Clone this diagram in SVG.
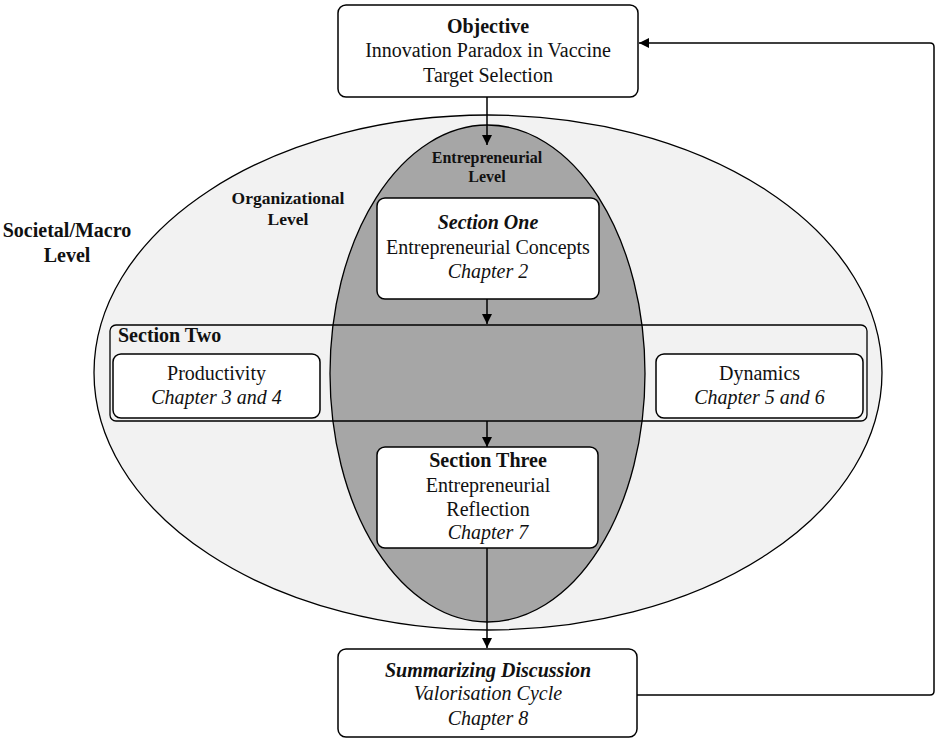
<svg xmlns="http://www.w3.org/2000/svg" width="938" height="741" viewBox="0 0 938 741">
  <defs>
    <marker id="arrow" viewBox="0 0 10 10" refX="10" refY="5" markerWidth="10" markerHeight="10" markerUnits="userSpaceOnUse" orient="auto">
      <path d="M0,0 L10,5 L0,10 z" fill="#000"/>
    </marker>
  </defs>
  <style>
    text { font-family: "Liberation Serif", "Times New Roman", serif; fill: #111; text-anchor: middle; }
    .box { fill: #fff; stroke: #000; stroke-width: 1.5; }
    .t { font-size: 20px; }
    .b { font-weight: bold; }
    .i { font-style: italic; }
    .conn { fill: none; stroke: #000; stroke-width: 1.5; }
  </style>
  <rect width="938" height="741" fill="#fff"/>

  <!-- Level regions -->
  <g id="societal-level">
    <ellipse cx="488" cy="372.5" rx="394" ry="257.5" fill="#f2f2f2" stroke="#000" stroke-width="1.3"/>
    <text class="t b" x="67" y="237">Societal/Macro</text>
    <text class="t b" x="67" y="262">Level</text>
  </g>
  <g id="organizational-level">
    <text class="b" font-size="17.5" x="288" y="204">Organizational</text>
    <text class="b" font-size="17.5" x="288" y="225">Level</text>
  </g>
  <g id="entrepreneurial-level">
    <ellipse cx="487.5" cy="373.5" rx="157.5" ry="248.5" fill="#a6a6a6" stroke="#000" stroke-width="1.3"/>
    <text class="b" font-size="16" x="487" y="163">Entrepreneurial</text>
    <text class="b" font-size="16" x="487" y="182">Level</text>
  </g>

  <!-- Nodes -->
  <g id="objective">
    <rect class="box" x="338" y="5" width="300" height="92" rx="8"/>
    <text class="t b" x="488" y="33">Objective</text>
    <text class="t" x="488" y="57">Innovation Paradox in Vaccine</text>
    <text class="t" x="488" y="82">Target Selection</text>
  </g>

  <g id="section-one">
    <rect class="box" x="377" y="198" width="222" height="101" rx="8"/>
    <text class="t b i" x="488" y="229">Section One</text>
    <text class="t" x="488" y="254">Entrepreneurial Concepts</text>
    <text class="t i" x="488" y="278">Chapter 2</text>
  </g>

  <g id="section-two">
    <rect x="110" y="325" width="757" height="96" rx="6" fill="none" stroke="#000" stroke-width="1.3"/>
    <text class="t b" x="118" y="342" style="text-anchor:start">Section Two</text>
  </g>

  <g id="productivity">
    <rect class="box" x="113" y="354" width="207" height="64" rx="8"/>
    <text class="t" x="216.5" y="380">Productivity</text>
    <text class="t i" x="216.5" y="404">Chapter 3 and 4</text>
  </g>

  <g id="dynamics">
    <rect class="box" x="656" y="354" width="207" height="64" rx="8"/>
    <text class="t" x="759.5" y="380">Dynamics</text>
    <text class="t i" x="759.5" y="404">Chapter 5 and 6</text>
  </g>

  <g id="section-three">
    <rect class="box" x="377" y="447" width="221" height="101" rx="8"/>
    <text class="t b" x="488" y="467">Section Three</text>
    <text class="t" x="488" y="492">Entrepreneurial</text>
    <text class="t" x="488" y="516">Reflection</text>
    <text class="t i" x="488" y="539">Chapter 7</text>
  </g>

  <g id="summarizing-discussion">
    <rect class="box" x="338" y="649" width="299" height="88" rx="8"/>
    <text class="t b i" x="488" y="677">Summarizing Discussion</text>
    <text class="t i" x="488" y="700">Valorisation Cycle</text>
    <text class="t i" x="488" y="725">Chapter 8</text>
  </g>

  <!-- Connectors -->
  <g id="connectors">
    <line class="conn" x1="487" y1="97" x2="487" y2="145" marker-end="url(#arrow)"/>
    <line class="conn" x1="487" y1="299" x2="487" y2="324" marker-end="url(#arrow)"/>
    <line class="conn" x1="487" y1="421" x2="487" y2="447" marker-end="url(#arrow)"/>
    <line class="conn" x1="487" y1="548" x2="487" y2="648" marker-end="url(#arrow)"/>
    <path class="conn" d="M637,695 H930 Q934,695 934,691 V47 Q934,43 930,43 H639" marker-end="url(#arrow)"/>
  </g>
</svg>
